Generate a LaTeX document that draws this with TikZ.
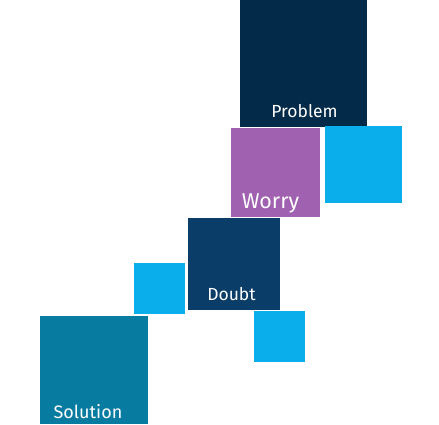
\documentclass[tikz,border=0pt]{standalone}
\usepackage{fontspec}
\setmainfont{Fira Sans}
\usetikzlibrary{positioning}
\definecolor{navy}{HTML}{032A48}
\definecolor{sky}{HTML}{0AAEEA}
\definecolor{plum}{HTML}{A061B0}
\definecolor{deepblue}{HTML}{0B3D69}
\definecolor{teal}{HTML}{087BA0}
\tikzset{
  tile/.style={fill=#1, draw=none, anchor=north west, inner sep=0pt},
  lbl/.style={text=white, anchor=base, inner sep=0pt}
}
\begin{document}
\begin{tikzpicture}[x=1pt, y=-1pt]
  \useasboundingbox (0,0) rectangle (439,424);
  % tiles
  \node[tile=navy, minimum width=127pt, minimum height=127pt] (problem) at (240,0) {};
  \node[tile=sky, minimum width=77pt, minimum height=77pt] (skyA) at (325,126) {};
  \node[tile=plum, minimum width=89pt, minimum height=89pt] (worry) at (231,128) {};
  \node[tile=deepblue, minimum width=92pt, minimum height=92pt] (doubt) at (188,218) {};
  \node[tile=sky, minimum width=51pt, minimum height=51pt] (skyB) at (134,263) {};
  \node[tile=sky, minimum width=51pt, minimum height=51pt] (skyC) at (254,311) {};
  \node[tile=teal, minimum width=108pt, minimum height=108pt] (solution) at (40,316) {};
  % labels
  \node[lbl, font=\fontsize{17.5}{17.5}\selectfont] (problemtxt) at (304.5,117) {Problem};
  \node[lbl, font=\fontsize{21.5}{21.5}\selectfont] (worrytxt) at (270.5,208) {Worry};
  \node[lbl, font=\fontsize{17.5}{17.5}\selectfont] (doubttxt) at (231.5,300) {Doubt};
  \node[lbl, font=\fontsize{18}{18}\selectfont] (solutiontxt) at (88,418) {Solution};
\end{tikzpicture}
\end{document}
